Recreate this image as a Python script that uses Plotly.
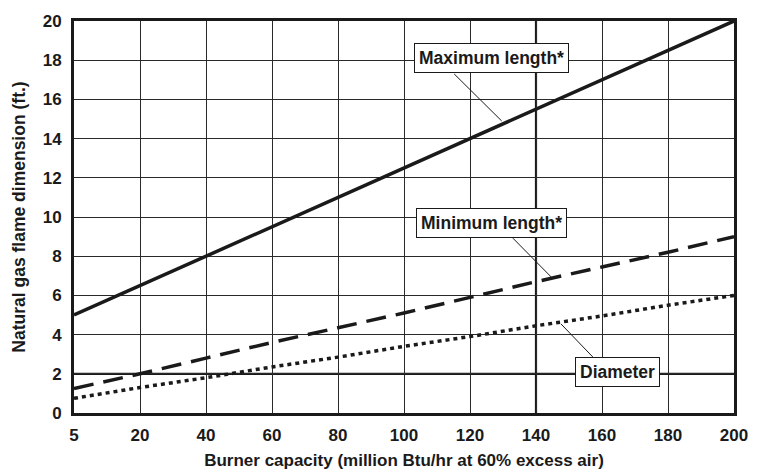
import plotly.graph_objects as go

# Data
capacity = ["5", "20", "40", "60", "80", "100", "120", "140", "160", "180", "200"]
max_length = [5.0, 6.5, 8.0, 9.5, 11.0, 12.5, 14.0, 15.5, 17.0, 18.5, 20.0]
min_length = [1.25, 2.0, 2.8, 3.6, 4.35, 5.1, 5.9, 6.7, 7.45, 8.2, 9.0]
diameter = [0.75, 1.3, 1.8, 2.35, 2.85, 3.4, 3.9, 4.45, 4.95, 5.5, 6.0]
y_ticks = [0, 2, 4, 6, 8, 10, 12, 14, 16, 18, 20]

FONT = "Liberation Sans, Arial, sans-serif"
INK = "#1a1a1a"

fig = go.Figure()
fig.add_trace(go.Scatter(x=capacity, y=max_length, mode="lines",
                         line=dict(color=INK, width=3.5), name="Maximum length*"))
fig.add_trace(go.Scatter(x=capacity, y=min_length, mode="lines",
                         line=dict(color=INK, width=3.5, dash="20px,10px"), name="Minimum length*"))
fig.add_trace(go.Scatter(x=capacity, y=diameter, mode="lines",
                         line=dict(color=INK, width=3.5, dash="4px,4px"), name="Diameter"))

shapes = [
    # emphasized grid lines
    dict(type="line", xref="x", yref="paper", x0=7, x1=7, y0=0, y1=1,
         line=dict(color=INK, width=2.2), layer="below"),
    dict(type="line", xref="paper", yref="y", x0=0, x1=1, y0=2, y1=2,
         line=dict(color=INK, width=2.2), layer="below"),
    # leader lines
    dict(type="line", xref="paper", yref="paper", x0=0.576, y0=0.865, x1=0.648, y1=0.745,
         line=dict(color=INK, width=1)),
    dict(type="line", xref="paper", yref="paper", x0=0.665, y0=0.446, x1=0.723, y1=0.347,
         line=dict(color=INK, width=1)),
    dict(type="line", xref="paper", yref="paper", x0=0.786, y0=0.143, x1=0.738, y1=0.227,
         line=dict(color=INK, width=1)),
]

ann_style = dict(xref="paper", yref="paper", xanchor="center", yanchor="middle",
                 showarrow=False, bgcolor="white",
                 bordercolor=INK, borderwidth=1, borderpad=4,
                 font=dict(family=FONT, size=17.5, color=INK, weight="bold"))
annotations = [
    dict(x=0.632, y=0.906, text="Maximum length*", **ann_style),
    dict(x=0.632, y=0.485, text="Minimum length*", **ann_style),
    dict(x=0.824, y=0.105, text="Diameter", **ann_style),
]

tickfont = dict(family=FONT, size=17, color=INK, weight="bold")
# page body has an 8px default margin, so the figure is sized to fit the 760x472 window
fig.update_layout(
    width=752, height=464,
    margin=dict(l=66, r=26, t=13, b=59),
    paper_bgcolor="white", plot_bgcolor="white",
    showlegend=False,
    font=dict(family=FONT, size=16, color=INK),
    shapes=shapes, annotations=annotations,
    xaxis=dict(
        type="category", range=[0, 10], automargin=False,
        showgrid=True, gridcolor="#2a2a2a", gridwidth=1.3,
        showline=True, linecolor=INK, linewidth=3, mirror=True,
        ticks="outside", ticklen=5, tickcolor="white",
        tickfont=tickfont,
        title=dict(text="Burner capacity (million Btu/hr at 60% excess air)",
                   font=dict(family=FONT, size=17, color=INK, weight="bold"), standoff=10),
        zeroline=False,
    ),
    yaxis=dict(
        range=[0, 20], tickvals=y_ticks, automargin=False,
        showgrid=True, gridcolor="#2a2a2a", gridwidth=1.3,
        showline=True, linecolor=INK, linewidth=3, mirror=True,
        ticks="outside", ticklen=6, tickcolor="white",
        tickfont=tickfont,
        title=dict(text="Natural gas flame dimension (ft.)",
                   font=dict(family=FONT, size=17.5, color=INK, weight="bold"), standoff=13),
        zeroline=False,
    ),
)

fig.write_html("out.html")
